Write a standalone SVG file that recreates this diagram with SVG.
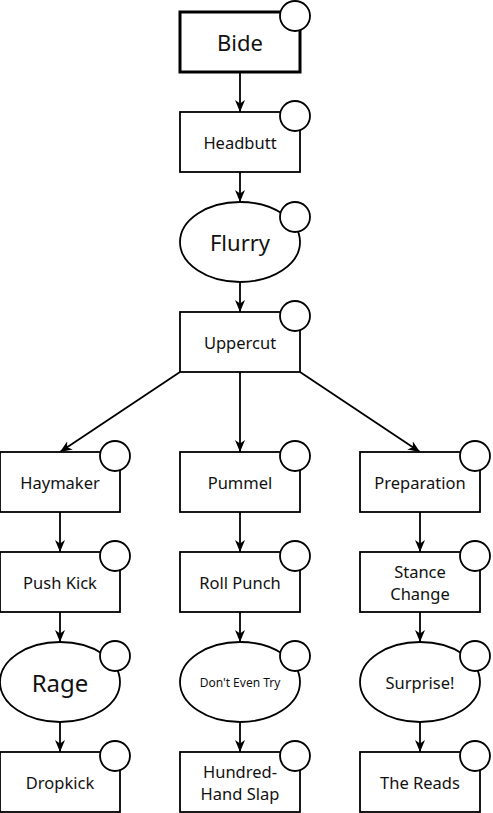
<svg xmlns="http://www.w3.org/2000/svg" width="493" height="813" viewBox="0 0 493 813">
<defs>
<style>
.box{fill:#fff;stroke:#000;stroke-width:1.8}
.bold{stroke-width:3}
.dot{fill:#fff;stroke:#000;stroke-width:1.8}
.t{font-family:"Noto Sans","DejaVu Sans",sans-serif;font-size:16.5px;fill:#111;text-anchor:middle;dominant-baseline:central}
.edge{fill:none;stroke:#000;stroke-width:1.8;marker-end:url(#arr)}
</style>
<marker id="arr" viewBox="0 0 12 12" refX="12" refY="6" markerWidth="12" markerHeight="12" markerUnits="userSpaceOnUse" orient="auto">
<path d="M0,1 L12,6 L0,11 L3.5,6 Z" fill="#000"/>
</marker>
</defs>
<rect width="493" height="813" fill="#fff"/>
<g id="connectors">
<line class="edge" x1="240" y1="72" x2="240" y2="112"/>
<line class="edge" x1="240" y1="172" x2="240" y2="202"/>
<line class="edge" x1="240" y1="282" x2="240" y2="312"/>
<line class="edge" x1="180" y1="372" x2="60" y2="452"/>
<line class="edge" x1="240" y1="372" x2="240" y2="452"/>
<line class="edge" x1="300" y1="372" x2="420" y2="452"/>
<line class="edge" x1="60" y1="512" x2="60" y2="552"/>
<line class="edge" x1="60" y1="612" x2="60" y2="642"/>
<line class="edge" x1="60" y1="722" x2="60" y2="752"/>
<line class="edge" x1="240" y1="512" x2="240" y2="552"/>
<line class="edge" x1="240" y1="612" x2="240" y2="642"/>
<line class="edge" x1="240" y1="722" x2="240" y2="752"/>
<line class="edge" x1="420" y1="512" x2="420" y2="552"/>
<line class="edge" x1="420" y1="612" x2="420" y2="642"/>
<line class="edge" x1="420" y1="722" x2="420" y2="752"/>
</g>
<g id="bide"><rect class="box bold" x="180" y="12" width="120" height="60"/><circle class="dot" cx="295" cy="16" r="15"/><text class="t" x="240" y="42" style="font-size:22px">Bide</text></g>
<g id="headbutt"><rect class="box" x="180" y="112" width="120" height="60"/><circle class="dot" cx="295" cy="116" r="15"/><text class="t" x="240" y="142">Headbutt</text></g>
<g id="flurry"><ellipse class="box" cx="240" cy="242" rx="60" ry="40"/><circle class="dot" cx="295" cy="217" r="15"/><text class="t" x="240" y="242" style="font-size:22px">Flurry</text></g>
<g id="uppercut"><rect class="box" x="180" y="312" width="120" height="60"/><circle class="dot" cx="295" cy="316" r="15"/><text class="t" x="240" y="342">Uppercut</text></g>
<g id="haymaker"><rect class="box" x="0" y="452" width="120" height="60"/><circle class="dot" cx="115" cy="456" r="15"/><text class="t" x="60" y="482">Haymaker</text></g>
<g id="pummel"><rect class="box" x="180" y="452" width="120" height="60"/><circle class="dot" cx="295" cy="456" r="15"/><text class="t" x="240" y="482">Pummel</text></g>
<g id="preparation"><rect class="box" x="360" y="452" width="120" height="60"/><circle class="dot" cx="475" cy="456" r="15"/><text class="t" x="420" y="482">Preparation</text></g>
<g id="pushkick"><rect class="box" x="0" y="552" width="120" height="60"/><circle class="dot" cx="115" cy="556" r="15"/><text class="t" x="60" y="582">Push Kick</text></g>
<g id="rollpunch"><rect class="box" x="180" y="552" width="120" height="60"/><circle class="dot" cx="295" cy="556" r="15"/><text class="t" x="240" y="582">Roll Punch</text></g>
<g id="stancechange"><rect class="box" x="360" y="552" width="120" height="60"/><circle class="dot" cx="475" cy="556" r="15"/><text class="t" x="420" y="571">Stance</text><text class="t" x="420" y="593">Change</text></g>
<g id="rage"><ellipse class="box" cx="60" cy="682" rx="60" ry="40"/><circle class="dot" cx="115" cy="656" r="15"/><text class="t" x="60" y="682" style="font-size:24px">Rage</text></g>
<g id="donteventry"><ellipse class="box" cx="240" cy="682" rx="60" ry="40"/><circle class="dot" cx="295" cy="656" r="15"/><text class="t" x="240" y="682" style="font-size:12px">Don't Even Try</text></g>
<g id="surprise"><ellipse class="box" cx="420" cy="682" rx="60" ry="40"/><circle class="dot" cx="475" cy="656" r="15"/><text class="t" x="420" y="682">Surprise!</text></g>
<g id="dropkick"><rect class="box" x="0" y="752" width="120" height="60"/><circle class="dot" cx="115" cy="756" r="15"/><text class="t" x="60" y="782">Dropkick</text></g>
<g id="hundredhandslap"><rect class="box" x="180" y="752" width="120" height="60"/><circle class="dot" cx="295" cy="756" r="15"/><text class="t" x="240" y="771">Hundred-</text><text class="t" x="240" y="793">Hand Slap</text></g>
<g id="thereads"><rect class="box" x="360" y="752" width="120" height="60"/><circle class="dot" cx="475" cy="756" r="15"/><text class="t" x="420" y="782">The Reads</text></g>
</svg>
